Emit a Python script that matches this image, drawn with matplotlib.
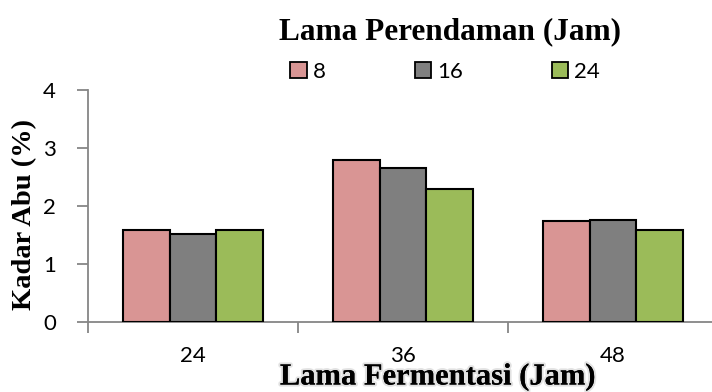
import matplotlib
matplotlib.use("Agg")
import matplotlib.pyplot as plt
import matplotlib.patheffects as pe
import numpy as np

# -----------------------------
# data
# -----------------------------
fermentasi = ["24", "36", "48"]          # Lama Fermentasi (Jam)
perendaman = ["8", "16", "24"]           # Lama Perendaman (Jam)
kadar_8 = [1.59, 2.80, 1.75]
kadar_16 = [1.51, 2.65, 1.76]
kadar_24 = [1.59, 2.29, 1.59]
y_ticks = [0, 1, 2, 3, 4]

colors = ["#D99594", "#7F7F7F", "#9BBB59"]
axis_gray = "#868686"
serif = "Liberation Serif"
sans = "Lato"

W, H = 712, 392
fig = plt.figure(figsize=(W / 100, H / 100), dpi=100)
ax = fig.add_axes([88 / W, (H - 322) / H, 630 / W, 232 / H])

x = np.arange(len(fermentasi))
bw = 0.222
series = [kadar_8, kadar_16, kadar_24]
for i, (vals, c, lab) in enumerate(zip(series, colors, perendaman)):
    ax.bar(x + (i - 1) * bw, vals, width=bw, color=c, edgecolor="black",
           linewidth=1.5, label=lab, zorder=3)

ax.set_xlim(-0.5, 2.5)
ax.set_ylim(0, 4)

# category labels in the middle, tick marks on the group boundaries
ax.set_xticks(x)
ax.set_xticklabels(fermentasi, fontsize=16, fontfamily=sans)
ax.tick_params(axis="x", which="major", length=0, pad=17)
ax.set_xticks([-0.5, 0.5, 1.5, 2.5], minor=True)
ax.tick_params(axis="x", which="minor", length=8, width=1.3, color=axis_gray,
               direction="out")

ax.set_yticks(y_ticks)
ax.set_yticklabels([str(v) for v in y_ticks], fontsize=16, fontfamily=sans)
ax.tick_params(axis="y", length=8, width=1.3, color=axis_gray, pad=15)

for side in ["top", "right"]:
    ax.spines[side].set_visible(False)
for side in ["left", "bottom"]:
    ax.spines[side].set_color(axis_gray)
    ax.spines[side].set_linewidth(1.3)

# titles
fig.text(450 / W, 1 - 32 / H, "Lama Perendaman (Jam)", ha="center", va="center",
         fontsize=22.5, fontweight="bold", fontfamily=serif)
fig.text(25 / W, 1 - 215 / H, "Kadar Abu (%)", ha="center", va="center",
         rotation=90, fontsize=20.5, fontweight="bold", fontfamily=serif)
fig.text(438 / W, 1 - 377 / H, "Lama Fermentasi (Jam)", ha="center", va="center",
         fontsize=22, fontweight="bold", fontfamily=serif,
         path_effects=[pe.withStroke(linewidth=3, foreground="#d0d0d0", alpha=0.6),
                       pe.Normal()])

leg = fig.legend(loc="center", bbox_to_anchor=(445 / W, 1 - 72 / H), ncol=3,
                 frameon=False, handlelength=0.75, handleheight=0.75,
                 handletextpad=0.25, columnspacing=4.0,
                 prop={"family": sans, "size": 16})
for h in leg.legend_handles:
    h.set_linewidth(1.3)

fig.savefig("out.png", dpi=100)
